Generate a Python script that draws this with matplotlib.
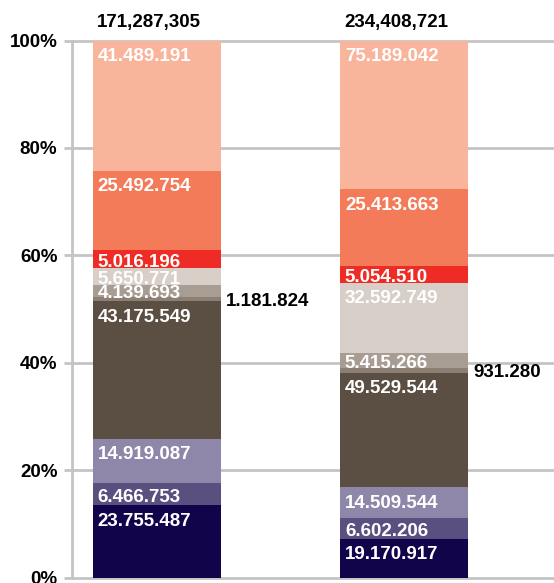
import numpy as np
import matplotlib
matplotlib.use('Agg')
import matplotlib.pyplot as plt

plt.rcParams['font.family'] = ['Liberation Sans', 'DejaVu Sans']

# Segment labels, bottom -> top
bar1_vals = [23755487, 6466753, 14919087, 43175549, 1181824,
             4139693, 5650771, 5016196, 25492754, 41489191]
bar2_vals = [19170917, 6602206, 14509544, 49529544, 931280,
             5415266, 32592749, 5054510, 25413663, 75189042]
# Segment heights (% of bar) as drawn in the chart
bar1_pct = [13.5, 4.15, 8.15, 25.6, 0.9, 2.2, 3.2, 3.2, 14.8, 24.3]
bar2_pct = [7.2, 3.9, 5.7, 21.3, 0.9, 2.8, 13.1, 3.1, 14.3, 27.7]
totals = ['171,287,305', '234,408,721']
colors = ['#12044A', '#5A507F', '#8F87A9', '#5B4F43', '#8C7F73',
          '#A89D93', '#D8CFC9', '#EE2B24', '#F47B59', '#F9B59B']
yticks = [0, 20, 40, 60, 80, 100]

fs = 13.5
xpos = [0, 1]
width = 0.518
px_per_pct = 537 / 100.0
pt = 72 / 100.0  # points per pixel at dpi 100

fig = plt.figure(figsize=(5.54, 5.83), dpi=100)
ax = fig.add_axes([72/554, 5.5/583, 482/554, 537/583])
ax.set_xlim(-0.344, 1.607)
ax.set_ylim(0, 100)

grid_c = '#C4C4C4'
for t in yticks:
    ax.axhline(t, color=grid_c, lw=2, zorder=0, clip_on=False)

for x, vals, pcts, tot in zip(xpos, [bar1_vals, bar2_vals], [bar1_pct, bar2_pct], totals):
    bottom = 0
    left = x - width / 2
    for v, p, c in zip(vals, pcts, colors):
        ax.bar(x, p, width, bottom=bottom, color=c, zorder=2)
        lab = f'{v:,}'.replace(',', '.')
        if p < 1:
            ax.annotate(lab, (x + width / 2, bottom + p / 2), xytext=(3.5, -2 * pt),
                        textcoords='offset points', ha='left', va='center',
                        fontsize=fs, fontweight='bold', color='black')
        else:
            seg_px = p * px_per_pct
            pad = min(7.5, max(0.0, (seg_px - 12) * 0.6))
            ax.annotate(lab, (left, bottom + p), xytext=(3.5, -pad * pt),
                        textcoords='offset points', ha='left', va='top',
                        fontsize=fs, fontweight='bold', color='white', zorder=3)
        bottom += p
    ax.annotate(tot, (left, 100), xytext=(3, 7),
                textcoords='offset points', ha='left', va='bottom',
                fontsize=fs, fontweight='bold', color='black',
                annotation_clip=False)

ax.set_yticks(yticks)
ax.set_yticklabels([f'{t}%' for t in yticks], fontsize=fs, fontweight='bold')
ax.set_xticks([])
ax.tick_params(axis='y', length=6, width=2, color=grid_c, pad=4.5)
for s in ['top', 'right', 'bottom']:
    ax.spines[s].set_visible(False)
ax.spines['left'].set_color(grid_c)
ax.spines['left'].set_linewidth(2)

fig.savefig('out.png', dpi=100)
